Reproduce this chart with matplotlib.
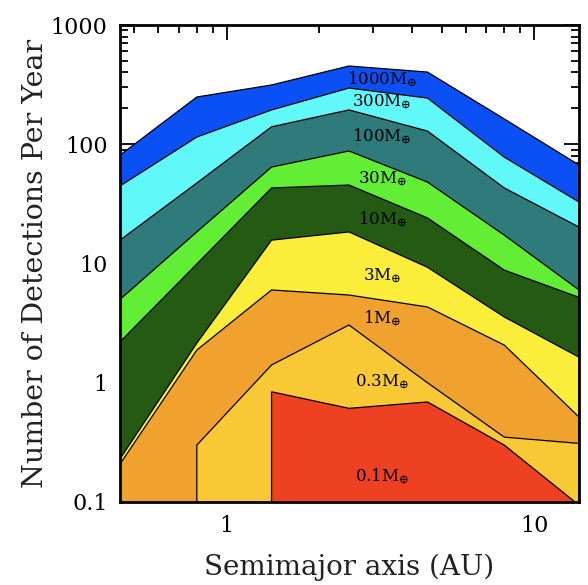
import numpy as np
import matplotlib
matplotlib.use("Agg")
import matplotlib.pyplot as plt

# Semimajor axis grid (AU) and detection rates per year for each planet mass
semimajor = [0.45, 0.8, 1.4, 2.5, 4.5, 8.0, 14.0]
rate_1000 = [81, 249, 314, 453, 403, 163, 67]
rate_300 = [44.7, 115, 194, 296, 244, 78, 32.8]
rate_100 = [15.7, 47.3, 140, 194, 129, 43, 20.2]
rate_30 = [5.0, 18.4, 64.4, 87.8, 48.2, 17.3, 6.0]
rate_10 = [2.2, 9.9, 43, 45.5, 24.1, 8.8, 5.2]
rate_3 = [0.23, 2.15, 15.7, 18.4, 9.3, 3.56, 1.64]
rate_1 = [0.208, 1.88, 6.0, 5.44, 4.32, 2.07, 0.516]
rate_0p3 = [np.nan, 0.30, 1.41, 3.05, 1.0, 0.35, 0.31]
rate_0p1 = [np.nan, np.nan, 0.84, 0.61, 0.69, 0.30, 0.094]

mass_labels = ["1000", "300", "100", "30", "10", "3", "1", "0.3", "0.1"]
y_ticks = [0.1, 1, 10, 100, 1000]
y_tick_labels = ["0.1", "1", "10", "100", "1000"]
x_ticks = [1, 10]
x_tick_labels = ["1", "10"]

series = [rate_1000, rate_300, rate_100, rate_30, rate_10,
          rate_3, rate_1, rate_0p3, rate_0p1]
colors = ["#0a50f5", "#60f8f8", "#2f7b7c", "#62ee34", "#245a12",
          "#fbee3a", "#f1a22e", "#f8c935", "#ee4121"]
label_y = [346, 226, 115, 51.1, 23.2, 7.85, 3.42, 1.01, 0.162]
label_x = 3.2

plt.rcParams["mathtext.fontset"] = "dejavuserif"
plt.rcParams["font.family"] = ["DejaVu Serif"]

fig = plt.figure(figsize=(5.88, 5.85), dpi=100)
ax = fig.add_axes([120 / 588, 1 - 502 / 585, 459 / 588, 477 / 585])
ax.set_xscale("log")
ax.set_yscale("log")

x = np.array(semimajor, dtype=float)
floor = 0.01
# Each mass band is painted from the bottom up to its own curve, largest first
for vals, col in zip(series, colors):
    v = np.array(vals, dtype=float)
    ok = ~np.isnan(v)
    xs = x[ok]
    vs = v[ok]
    px = np.concatenate([[xs[0]], xs, [xs[-1]]])
    py = np.concatenate([[floor], vs, [floor]])
    ax.fill(px, py, facecolor=col, edgecolor="black", linewidth=0.9,
            zorder=2)

for name, yv in zip(mass_labels, label_y):
    ax.text(label_x, yv, name + r"M$_{\oplus}$", ha="center", va="center",
            fontsize=12, color="black", zorder=3)

ax.set_xlim(0.45, 14)
ax.set_ylim(0.1, 1000)
ax.set_yticks(y_ticks, labels=y_tick_labels)
ax.set_xticks(x_ticks, labels=x_tick_labels)

ax.tick_params(which="both", direction="in", top=True, right=True,
               width=1.3, color="black")
ax.tick_params(which="major", length=11, labelsize=16, pad=9)
ax.tick_params(which="minor", length=5.5)
ax.tick_params(axis="y", which="minor", labelleft=False)
ax.tick_params(axis="x", which="minor", labelbottom=False)
for sp in ax.spines.values():
    sp.set_linewidth(2)
    sp.set_zorder(5)

ax.set_xlabel("Semimajor axis (AU)", fontsize=20, labelpad=12,
              color="#222222")
ax.set_ylabel("Number of Detections Per Year", fontsize=20.5, labelpad=1,
              color="#222222")

fig.savefig("out.png", dpi=100)
